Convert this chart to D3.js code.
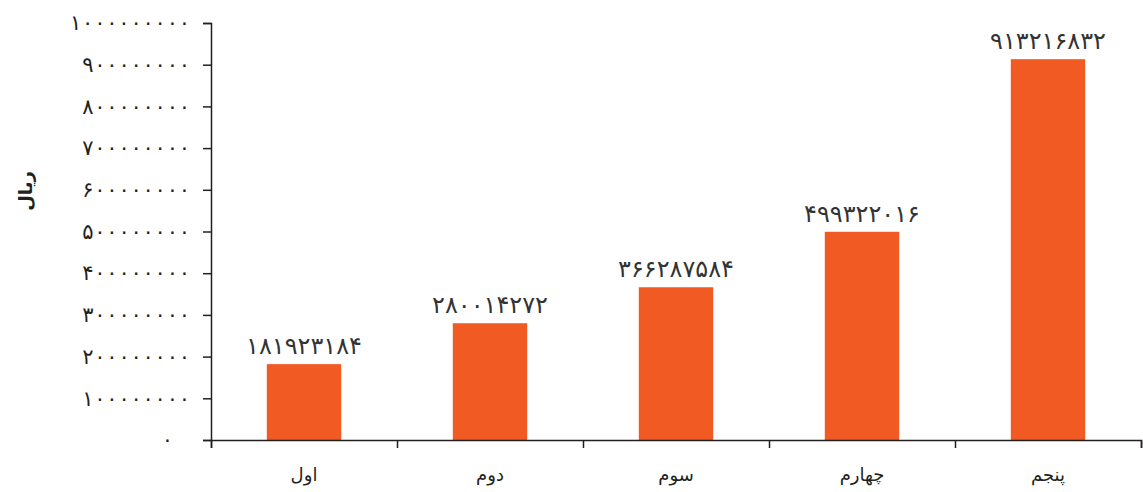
<!DOCTYPE html>
<html><head><meta charset="utf-8">
<script src="https://cdn.jsdelivr.net/npm/d3@7"></script>
<style>body{margin:0;background:#fff}</style>
</head><body>
<svg id="c" width="1143" height="492"></svg>
<script>
const categories = ["اول","دوم","سوم","چهارم","پنجم"];
const values = [181923184, 280014272, 366287584, 499322016, 913216832];
const yTicks = [0,100000000,200000000,300000000,400000000,500000000,600000000,700000000,800000000,900000000,1000000000];
const yTitle = "ریال";

const fa = s => String(s).replace(/[0-9]/g, d => "۰۱۲۳۴۵۶۷۸۹"[d]);
const svg = d3.select("#c");
const axisColor = "#231f20";
const x = d3.scaleBand().domain(categories).range([211, 1141]).paddingInner(0.6).paddingOuter(0.3);
const y = d3.scaleLinear().domain([0, 1000000000]).range([440, 23]);

// bars
svg.selectAll("rect.bar").data(values).join("rect")
  .attr("x", (d,i) => x(categories[i]))
  .attr("width", x.bandwidth())
  .attr("y", d => y(d))
  .attr("height", d => y(0) - y(d))
  .attr("fill", "#f15a22");

// bar labels
svg.selectAll("text.lab").data(values).join("text")
  .attr("x", (d,i) => x(categories[i]) + x.bandwidth()/2)
  .attr("y", d => y(d) - 10)
  .attr("text-anchor", "middle")
  .attr("font-family", "DejaVu Sans")
  .attr("font-size", 24)
  .attr("letter-spacing", 0.5)
  .attr("fill", "#333")
  .text(d => fa(d));

// y axis
const yAxis = svg.append("g").attr("transform", "translate(211,0)")
  .call(d3.axisLeft(y).tickValues(yTicks).tickSize(8).tickPadding(13).tickFormat(d => fa(d)));
yAxis.select(".domain").attr("stroke", axisColor).attr("stroke-width", 1.5);
yAxis.selectAll(".tick line").attr("stroke", axisColor).attr("stroke-width", 1.5);
yAxis.selectAll(".tick text").attr("font-family", "DejaVu Sans").attr("font-size", 21)
  .attr("fill", axisColor).attr("direction","ltr")
  .attr("dx", d => d === 0 ? -17 : 0)
  .each(function(d){
    const n = fa(d).length;
    if (n > 1) d3.select(this).attr("textLength", n * 12.2 - 2).attr("lengthAdjust", "spacing");
  });

// x axis (ticks at band boundaries)
const xLine = d3.scaleLinear().domain([0, 5]).range([211, 1141]);
const xAxis = svg.append("g").attr("transform", "translate(0,440)")
  .call(d3.axisBottom(xLine).ticks(5).tickSize(8).tickFormat(""));
xAxis.select(".domain").attr("stroke", axisColor).attr("stroke-width", 1.5);
xAxis.selectAll(".tick line").attr("stroke", axisColor).attr("stroke-width", 1.5);

svg.selectAll("text.cat").data(categories).join("text")
  .attr("x", d => x(d) + x.bandwidth()/2)
  .attr("y", 481)
  .attr("text-anchor", "middle")
  .attr("font-family", "DejaVu Sans")
  .attr("font-size", 18)
  .attr("fill", axisColor)
  .text(d => d);

svg.append("text")
  .attr("transform", "translate(32,191) rotate(-90)")
  .attr("text-anchor", "middle")
  .attr("font-family", "DejaVu Sans")
  .attr("font-weight", "bold")
  .attr("font-size", 18)
  .attr("fill", axisColor)
  .text(yTitle);
</script>
</body></html>
